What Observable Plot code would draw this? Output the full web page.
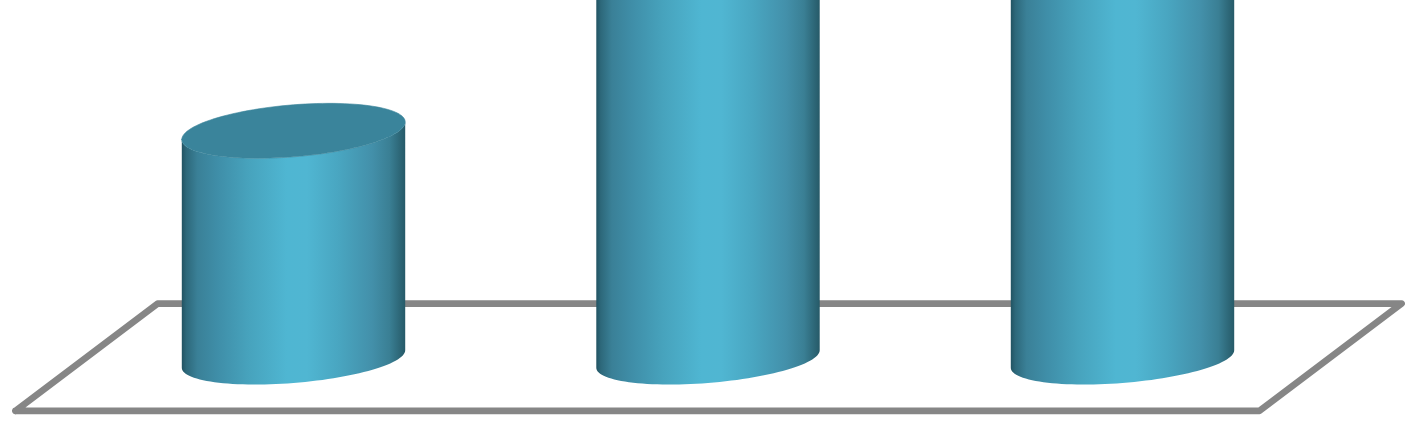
<!DOCTYPE html>
<html>
<head>
<meta charset="utf-8">
<script src="https://cdn.jsdelivr.net/npm/d3@7"></script>
<script src="https://cdn.jsdelivr.net/npm/@observablehq/plot@0.6"></script>
<style>
html,body{margin:0;padding:0;background:#fff;overflow:hidden}
svg{display:block;overflow:hidden}
</style>
</head>
<body>
<div id="chart"></div>
<script>
// Chart data (slot index on x, value on y)
const categories = [0, 1, 2];
const values = [1, 2, 2];

// Floor parallelogram, in the same units
const floorX = [-0.672, 2.329, 2.672, -0.329, -0.672];
const floorY = [-0.225, -0.225, 0.245, 0.245, -0.225];

// Cylinder proportions, in the same units
const halfWidth = 0.2695;
const tilt = 0.0385;
const topDepth = 0.114;
const baseDepth = 0.105;
const capCentre = 0.0;

// Side shading, left to right
const shadeOffsets = ["0%", "2%", "7%", "16%", "30%", "47%", "56%", "70%", "85%", "93%", "100%"];
const shadeColors = ["#225362", "#2d687a", "#3a8097", "#3f8ea8", "#47a3bd", "#4fb6d2", "#50b6d2", "#49a6c1", "#4390aa", "#3a7f94", "#265a68"];
const capColor = "#3a849b";
const floorColor = "#868686";

const steps = d3.range(0, 61).map(i => i / 60);
const table = categories.flatMap((c, k) => steps.map(s => {
  const t = Math.PI * (1 - s);
  const cos = Math.cos(t), sin = Math.sin(t);
  return {
    c,
    x: c + halfWidth * cos,
    baseFront: tilt * cos - baseDepth * sin,
    topFront: values[k] + capCentre + tilt * cos - topDepth * sin,
    topBack: values[k] + capCentre + tilt * cos + topDepth * sin
  };
}));
const floor = floorX.map((x, i) => ({x, y: floorY[i]}));

const gradient = () => {
  const defs = d3.create("svg:defs");
  const g = defs.append("linearGradient").attr("id", "side").attr("x1", 0).attr("x2", 1).attr("y1", 0).attr("y2", 0);
  shadeOffsets.forEach((o, i) => g.append("stop").attr("offset", o).attr("stop-color", shadeColors[i]));
  return defs.node();
};

const chart = Plot.plot({
  width: 1425,
  height: 425,
  margin: 0,
  style: {background: "#fff"},
  x: {type: "linear", domain: [-0.7081, 2.7298], range: [0, 1425], axis: null},
  y: {type: "linear", domain: [-0.2892, 1.5732], range: [425, 0], axis: null},
  marks: [
    gradient,
    Plot.line(floor, {x: "x", y: "y", stroke: floorColor, strokeWidth: 6.7, strokeLinejoin: "round", strokeLinecap: "round"}),
    Plot.areaY(table, {x: "x", y1: "baseFront", y2: "topFront", z: "c", fill: "url(#side)", curve: "linear"}),
    Plot.areaY(table, {x: "x", y1: "topFront", y2: "topBack", z: "c", fill: capColor, stroke: capColor, strokeWidth: 0.6, curve: "linear"})
  ]
});
document.getElementById("chart").append(chart);
</script>
</body>
</html>
